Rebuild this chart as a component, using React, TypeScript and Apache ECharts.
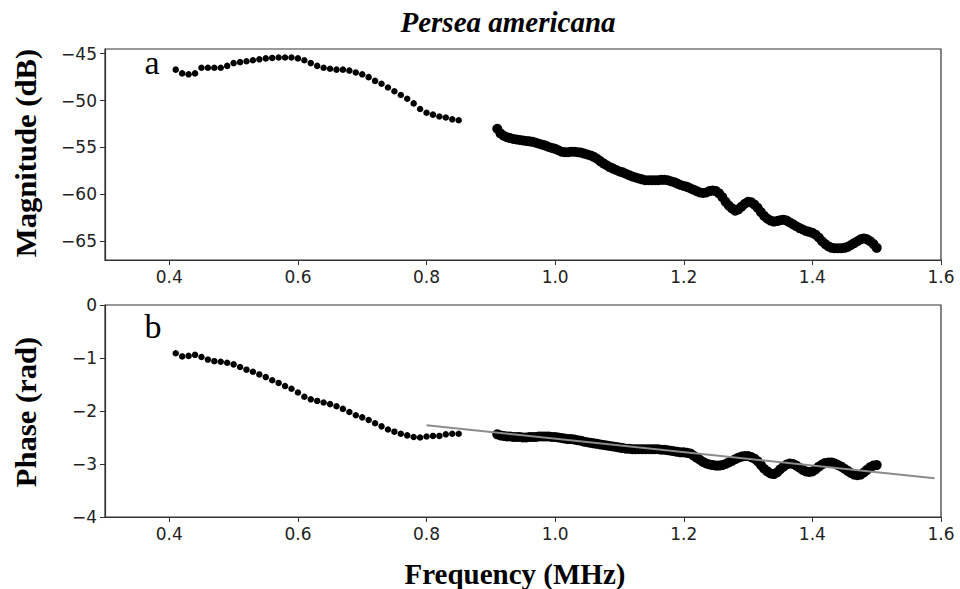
import React, { useEffect, useRef } from "react";
import * as echarts from "echarts";

// ---- data ----
const sparseStart = 0.41;
const sparseStep = 0.01;
const denseStart = 0.91;
const denseStep = 0.005;

const magSparse = [
  -46.7, -47.1, -47.2, -47.1, -46.5, -46.5, -46.5, -46.5, -46.3, -46.0,
  -45.9, -45.8, -45.7, -45.6, -45.5, -45.45, -45.4, -45.4, -45.4, -45.5,
  -45.7, -46.0, -46.3, -46.5, -46.6, -46.7, -46.7, -46.8, -47.0, -47.2,
  -47.5, -47.9, -48.2, -48.6, -49.0, -49.4, -49.8, -50.3, -50.9, -51.3,
  -51.5, -51.7, -51.8, -52.0, -52.1,
];

const magDense = [
  -53.0, -53.5, -53.75, -53.9, -54.0, -54.1, -54.15, -54.2, -54.25, -54.3,
  -54.35, -54.4, -54.5, -54.6, -54.7, -54.8, -54.95, -55.05, -55.15, -55.3,
  -55.45, -55.5, -55.5, -55.45, -55.45, -55.5, -55.55, -55.65, -55.75, -55.85,
  -56.0, -56.2, -56.45, -56.7, -56.9, -57.1, -57.25, -57.4, -57.55, -57.65,
  -57.8, -57.95, -58.1, -58.2, -58.3, -58.4, -58.5, -58.5, -58.5, -58.5,
  -58.5, -58.45, -58.45, -58.5, -58.6, -58.7, -58.85, -59.0, -59.1, -59.2,
  -59.35, -59.5, -59.65, -59.8, -59.85, -59.8, -59.65, -59.6, -59.65, -59.9,
  -60.3, -60.8, -61.2, -61.5, -61.75, -61.6, -61.3, -61.0, -60.8, -60.85,
  -61.1, -61.45, -61.9, -62.3, -62.6, -62.8, -62.9, -62.85, -62.75, -62.7,
  -62.8, -63.0, -63.2, -63.4, -63.6, -63.75, -63.9, -64.0, -64.1, -64.3,
  -64.6, -65.0, -65.3, -65.55, -65.7, -65.75, -65.75, -65.75, -65.7, -65.6,
  -65.4, -65.2, -65.0, -64.8, -64.7, -64.8, -65.0, -65.3, -65.7,
];

const phaseSparse = [
  -0.91, -0.97, -0.96, -0.94, -0.98, -1.03, -1.06, -1.07, -1.09, -1.12,
  -1.17, -1.22, -1.26, -1.31, -1.36, -1.42, -1.47, -1.53, -1.58, -1.65,
  -1.73, -1.78, -1.81, -1.84, -1.87, -1.91, -1.96, -2.02, -2.08, -2.12,
  -2.17, -2.23, -2.29, -2.35, -2.39, -2.43, -2.46, -2.49, -2.5, -2.48,
  -2.47, -2.47, -2.44, -2.43, -2.43,
];

const phaseDense = [
  -2.44, -2.46, -2.47, -2.48, -2.48, -2.49, -2.49, -2.49, -2.5, -2.5,
  -2.49, -2.49, -2.49, -2.48, -2.48, -2.48, -2.48, -2.49, -2.49, -2.5,
  -2.51, -2.52, -2.53, -2.53, -2.54, -2.55, -2.56, -2.58, -2.59, -2.6,
  -2.61, -2.62, -2.63, -2.64, -2.65, -2.66, -2.67, -2.68, -2.69, -2.7,
  -2.71, -2.71, -2.72, -2.72, -2.72, -2.72, -2.72, -2.72, -2.72, -2.72,
  -2.72, -2.73, -2.73, -2.74, -2.75, -2.76, -2.77, -2.78, -2.78, -2.79,
  -2.8, -2.84, -2.88, -2.92, -2.96, -2.99, -3.01, -3.02, -3.03, -3.03,
  -3.02, -3.0, -2.97, -2.94, -2.91, -2.88, -2.86, -2.85, -2.85, -2.87,
  -2.9, -2.95, -3.02, -3.09, -3.14, -3.18, -3.19, -3.16, -3.1, -3.05,
  -3.01, -2.99, -3.0, -3.03, -3.07, -3.11, -3.14, -3.15, -3.14, -3.1,
  -3.05, -3.01, -2.98, -2.97, -2.97, -2.99, -3.02, -3.05, -3.09, -3.13,
  -3.17, -3.2, -3.21, -3.2, -3.16, -3.11, -3.06, -3.03, -3.02,
];

const fitLine = [
  [0.8, -2.27],
  [1.59, -3.27],
];

const xTicks = [0.4, 0.6, 0.8, 1.0, 1.2, 1.4, 1.6];
const magTicks = [-65, -60, -55, -50, -45];
const phaseTicks = [-4, -3, -2, -1, 0];

const title = "Persea americana";
const magLabel = "Magnitude (dB)";
const phaseLabel = "Phase (rad)";
const freqLabel = "Frequency (MHz)";

function pair(start: number, step: number, vals: number[]) {
  return vals.map((v, i) => [+(start + i * step).toFixed(4), v]);
}

const minus = (s: string) => s.replace("-", "\u2212");

export default function App() {
  const ref = useRef<HTMLDivElement>(null);
  useEffect(() => {
    if (!ref.current) return;
    const chart = echarts.init(ref.current, undefined, { renderer: "svg" });
    const frame = "#333";
    const tickFont = {
      fontFamily: "DejaVu Sans",
      fontSize: 17,
      color: "#222",
    };
    const mkX = (gi: number) => ({
      type: "value",
      gridIndex: gi,
      min: 0.3,
      max: 1.6,
      axisLine: { show: true, onZero: false, lineStyle: { color: frame, width: 1.2 } },
      axisTick: { show: true, length: 5, customValues: xTicks, lineStyle: { color: frame } },
      axisLabel: {
        ...tickFont,
        margin: 8,
        customValues: xTicks,
        formatter: (v: number) => v.toFixed(1),
      },
      splitLine: { show: false },
    });
    const mkY = (gi: number, min: number, max: number, ticks: number[]) => ({
      type: "value",
      gridIndex: gi,
      min,
      max,
      axisLine: { show: true, onZero: false, lineStyle: { color: frame, width: 1.2 } },
      axisTick: { show: true, length: 5, customValues: ticks, lineStyle: { color: frame } },
      axisLabel: {
        ...tickFont,
        margin: 8,
        customValues: ticks,
        formatter: (v: number) => minus(String(Math.round(v))),
      },
      splitLine: { show: false },
    });
    const serif = "'Liberation Serif', 'DejaVu Serif', serif";
    const txt = (
      text: string,
      x: number,
      y: number,
      font: string,
      rotation = 0,
      scaleX = 1
    ) => ({
      type: "text",
      x,
      y,
      rotation,
      scaleX,
      style: {
        text,
        font,
        fill: "#000",
        textAlign: "center",
        textVerticalAlign: "middle",
        align: "center",
        verticalAlign: "middle",
      },
    });
    const dot = { color: "#000", opacity: 1 };
    chart.setOption({
      animation: false,
      backgroundColor: "#fff",
      grid: [
        { left: 105, right: 19, top: 49, height: 211, show: true, borderColor: frame, borderWidth: 1.2 },
        { left: 105, right: 19, top: 305, height: 212, show: true, borderColor: frame, borderWidth: 1.2 },
      ],
      xAxis: [mkX(0), mkX(1)],
      yAxis: [mkY(0, -67, -44.5, magTicks), mkY(1, -4, 0, phaseTicks)],
      series: [
        {
          type: "scatter",
          xAxisIndex: 0,
          yAxisIndex: 0,
          symbolSize: 6.5,
          itemStyle: dot,
          data: pair(sparseStart, sparseStep, magSparse),
        },
        {
          type: "scatter",
          xAxisIndex: 0,
          yAxisIndex: 0,
          symbolSize: 10,
          itemStyle: dot,
          data: pair(denseStart, denseStep, magDense),
        },
        {
          type: "scatter",
          xAxisIndex: 1,
          yAxisIndex: 1,
          symbolSize: 6.5,
          itemStyle: dot,
          data: pair(sparseStart, sparseStep, phaseSparse),
        },
        {
          type: "scatter",
          xAxisIndex: 1,
          yAxisIndex: 1,
          symbolSize: 10,
          itemStyle: dot,
          data: pair(denseStart, denseStep, phaseDense),
        },
        {
          type: "line",
          xAxisIndex: 1,
          yAxisIndex: 1,
          symbol: "none",
          z: 5,
          lineStyle: { color: "#8c8c8c", width: 2 },
          data: fitLine,
        },
      ],
      graphic: [
        txt(title, 508, 22, `italic bold 29px ${serif}`),
        txt(magLabel, 26, 153, `bold 30px ${serif}`, Math.PI / 2, 1.02),
        txt(phaseLabel, 26, 412, `bold 30px ${serif}`, Math.PI / 2, 1.02),
        txt(freqLabel, 515, 574, `bold 29px ${serif}`),
        txt("a", 152, 62, `34px ${serif}`),
        txt("b", 153, 326, `34px ${serif}`),
      ],
    });
    return () => chart.dispose();
  }, []);
  return (
    <div
      ref={ref}
      style={{ position: "fixed", left: 0, top: 0, width: 960, height: 589 }}
    />
  );
}
